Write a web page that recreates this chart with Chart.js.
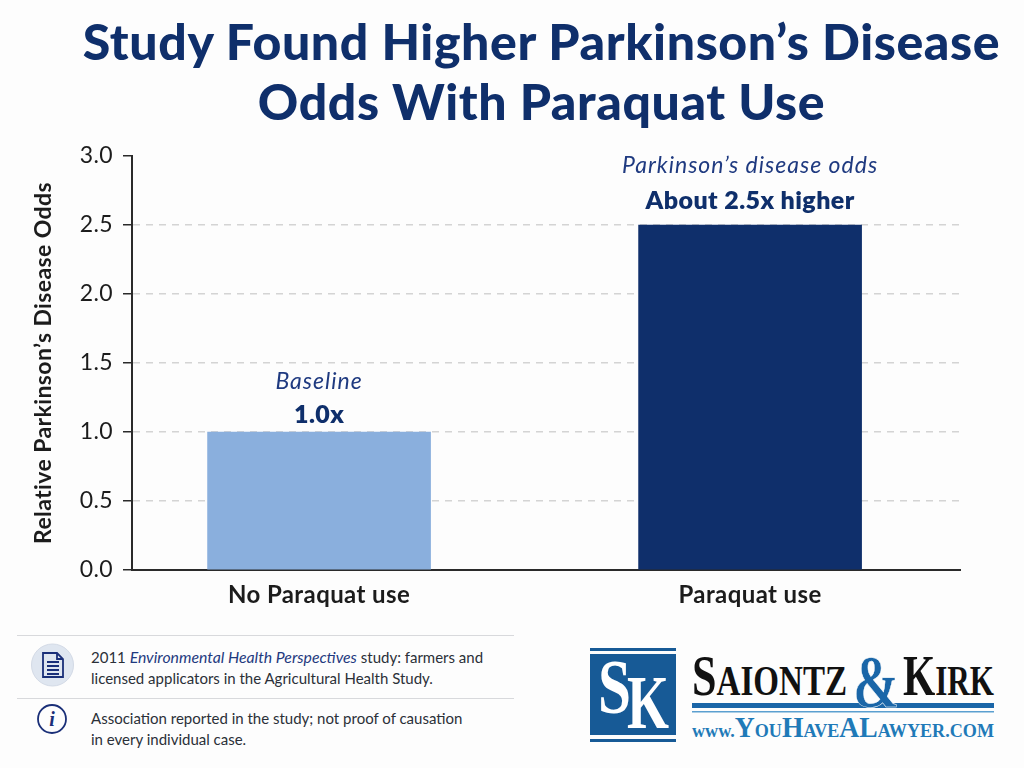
<!DOCTYPE html>
<html>
<head>
<meta charset="utf-8">
<title>Paraquat and Parkinson's disease odds</title>
<script src="https://cdn.jsdelivr.net/npm/chart.js@4/dist/chart.umd.min.js"></script>
<style>
  html, body { margin: 0; padding: 0; background: #fdfdfd; }
  body { width: 1024px; height: 768px; position: relative; overflow: hidden; font-family: Lato, sans-serif; }
  h1 { position: absolute; left: 40px; top: 11px; width: 1003px; margin: 0; text-align: center;
       color: #0f2f6b; font: 900 50px/60px Lato, sans-serif; letter-spacing: 0.6px; }
  #chartBox { position: absolute; left: 0; top: 130px; width: 1024px; height: 490px; }
  .rule { position: absolute; left: 17px; width: 497px; height: 1px; background: #d8d9dc; }
  .note { position: absolute; left: 91px; color: #2b3038; font-size: 15px; line-height: 21px; white-space: nowrap; }
  .note em { color: #1f3a80; font-size: 15.8px; }
  svg { position: absolute; }
</style>
</head>
<body>
<h1>Study Found Higher Parkinson’s Disease<br>Odds With Paraquat Use</h1>
<div id="chartBox"><canvas id="oddsChart"></canvas></div>

<div class="rule" style="top:635px"></div>
<div class="rule" style="top:698px"></div>
<svg style="left:30px;top:642px" width="46" height="46" viewBox="0 0 46 46">
  <circle cx="22.5" cy="23" r="21" fill="#dfe6f0" stroke="#d3dae6"/>
  <path d="M13 11 H27 L33 17 V35 H13 Z M27 11 V17 H33 M17 20 H29 M17 24 H29 M17 28 H29 M17 32 H29" fill="none" stroke="#1a2f78" stroke-width="1.8"/>
</svg>
<div class="note" style="top:646px">2011 <em>Environmental Health Perspectives</em> study: farmers and<br>licensed applicators in the Agricultural Health Study.</div>
<svg style="left:36px;top:703px" width="32" height="32" viewBox="0 0 32 32">
  <circle cx="16" cy="16" r="14" fill="none" stroke="#1a2f78" stroke-width="1.8"/>
  <text x="16" y="23" text-anchor="middle" font-family="Liberation Serif" font-style="italic" font-weight="700" font-size="20" fill="#1a2f78">i</text>
</svg>
<div class="note" style="top:708px">Association reported in the study; not proof of causation<br>in every individual case.</div>

<svg style="left:570px;top:630px" width="454" height="130" viewBox="570 630 454 130">
  <rect x="590" y="648" width="86" height="3" fill="#175a96"/>
  <rect x="590" y="654" width="86" height="81" fill="#175a96"/>
  <rect x="590" y="739" width="86" height="3" fill="#175a96"/>
  <text x="598" y="713" font-family="Liberation Serif" font-weight="700" font-size="78" textLength="33" lengthAdjust="spacingAndGlyphs" fill="#fff">S</text>
  <text x="627" y="728" font-family="Liberation Serif" font-weight="700" font-size="77" textLength="42" lengthAdjust="spacingAndGlyphs" fill="#fff">K</text>
  <rect x="692" y="703" width="302" height="5" fill="#1a66a8"/>
  <rect x="692" y="711" width="302" height="1.5" fill="#5b9fd0"/>
  <text x="692" y="695" font-family="Liberation Serif" font-weight="700" font-size="56" textLength="155" lengthAdjust="spacingAndGlyphs" fill="#111">S<tspan font-size="42">AIONTZ</tspan></text>
  <text x="853" y="707" font-family="Liberation Serif" font-weight="700" font-size="75" textLength="46" lengthAdjust="spacingAndGlyphs" fill="#1a66a8" stroke="#fdfdfd" stroke-width="0.6">&amp;</text>
  <text x="903" y="695" font-family="Liberation Serif" font-weight="700" font-size="56" textLength="91" lengthAdjust="spacingAndGlyphs" fill="#111">K<tspan font-size="42">IRK</tspan></text>
  <text x="692" y="737" font-family="Liberation Serif" font-weight="700" font-size="19" textLength="302" lengthAdjust="spacingAndGlyphs" fill="#1f7ab8">www.<tspan font-size="29">Y</tspan>OU<tspan font-size="29">H</tspan>AVE<tspan font-size="29">A</tspan><tspan font-size="29">L</tspan>AWYER.COM</text>
</svg>

<script>
// Data
const CATEGORIES = ['No Paraquat use', 'Paraquat use'];
const ODDS = [1.0, 2.5];
const BAR_COLORS = ['#8aafdd', '#0f2f6b'];
const NOTE_LABELS = ['Baseline', 'Parkinson’s disease odds'];
const VALUE_LABELS = ['1.0x', 'About 2.5x higher'];
const Y_TICKS = [0, 0.5, 1, 1.5, 2, 2.5, 3];

const NAVY = '#0f2f6b';
const AXIS_COLOR = '#2a2a2a';
const NOTE_OFFSET = [43, 52];
const VALUE_OFFSET = [9, 16];

// Text above the bars
const barLabels = {
    id: 'barLabels',
    beforeDraw(chart) {
        chart.ctx.letterSpacing = '0.4px';
    },
    afterDatasetsDraw(chart) {
        const { ctx, scales } = chart;
        ctx.save();
        ctx.textAlign = 'center';
        ODDS.forEach((v, i) => {
            const x = scales.x.getPixelForValue(i);
            const y = scales.y.getPixelForValue(v);
            ctx.fillStyle = '#1f3a80';
            ctx.font = 'italic 23px Lato, sans-serif';
            ctx.letterSpacing = '1px';
            ctx.fillText(NOTE_LABELS[i], x, y - NOTE_OFFSET[i]);
            ctx.fillStyle = NAVY;
            ctx.font = '800 25px Lato, sans-serif';
            ctx.letterSpacing = '0.4px';
            ctx.fillText(VALUE_LABELS[i], x, y - VALUE_OFFSET[i]);
        });
        ctx.restore();
    }
};

new Chart(document.getElementById('oddsChart'), {
    type: 'bar',
    data: {
        datasets: [{
            data: ODDS.map((v, i) => ({ x: i, y: v })),
            backgroundColor: BAR_COLORS,
            barThickness: 223
        }]
    },
    options: {
        responsive: true,
        maintainAspectRatio: false,
        animation: false,
        layout: { padding: { top: 26, right: 64, bottom: 0, left: 0 } },
        plugins: { legend: { display: false }, tooltip: { enabled: false } },
        scales: {
            x: {
                type: 'linear',
                offset: false,
                min: -0.434,
                max: 1.487,
                afterBuildTicks: s => { s.ticks = CATEGORIES.map((c, i) => ({ value: i })); },
                afterFit: s => { s.height = 50; },
                grid: { display: false },
                border: { color: AXIS_COLOR, width: 2 },
                ticks: {
                    autoSkip: false,
                    maxRotation: 0,
                    padding: 3,
                    color: '#1c1c1c',
                    font: { family: 'Lato', size: 24, weight: '700' },
                    callback: v => CATEGORIES[v]
                }
            },
            y: {
                min: 0,
                max: 3,
                afterBuildTicks: s => { s.ticks = Y_TICKS.map(v => ({ value: v })); },
                afterFit: s => { s.width = 132; },
                grid: {
                    color: c => (c.tick.value > 0 && c.tick.value < 3) ? '#d4d4d4' : 'rgba(0,0,0,0)',
                    tickColor: AXIS_COLOR,
                    tickLength: 9,
                    tickBorderDash: [],
                    lineWidth: 1.5,
                    tickWidth: 1.5
                },
                border: { color: AXIS_COLOR, width: 2, dash: [7, 6] },
                title: {
                    display: true,
                    text: 'Relative Parkinson’s Disease Odds',
                    color: '#1c1c1c',
                    font: { family: 'Lato', size: 23, weight: '700' },
                    padding: { top: 30, bottom: 8 }
                },
                ticks: {
                    padding: 10,
                    color: '#1c1c1c',
                    font: { family: 'Lato', size: 23 },
                    callback: v => v.toFixed(1)
                }
            }
        }
    },
    plugins: [barLabels]
});
</script>
</body>
</html>
